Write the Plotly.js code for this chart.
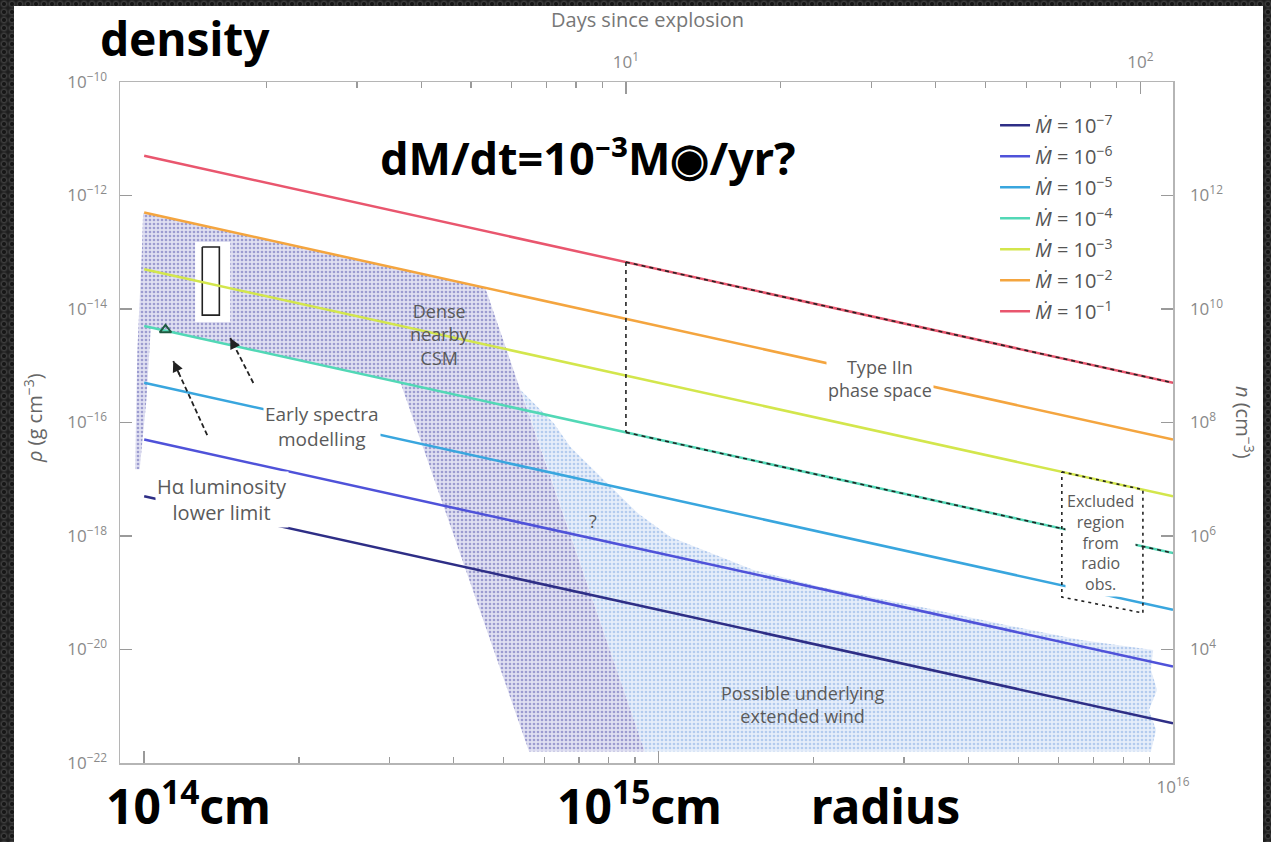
<!DOCTYPE html>
<html><head><meta charset="utf-8">
<script src="https://cdn.plot.ly/plotly-3.0.1.min.js"></script>
<style>
html,body{margin:0;padding:0;width:1271px;height:842px;overflow:hidden;
background-color:#2a2a2a;
background-image:radial-gradient(circle at 50% 50%, #161616 0 1.5px, #3d3d3d 2.5px, #2c2c2c 3.5px, #1d1d1d 4.5px);
background-size:8px 8px;}
#chart{position:absolute;left:14px;top:6px;width:1249px;height:836px;background:#fff;}
</style></head><body><div id="chart"></div><script>
// ---------------- data ----------------
const lineLabels = ['10<sup>−7</sup>','10<sup>−6</sup>','10<sup>−5</sup>','10<sup>−4</sup>','10<sup>−3</sup>','10<sup>−2</sup>','10<sup>−1</sup>'];
const lineRadius = [1e14, 1e16];
const densityAt1e14 = [5.0e-18, 5.0e-17, 5.0e-16, 5.0e-15, 5.0e-14, 5.0e-13, 5.0e-12];
const densityAt1e16 = [5.0e-22, 5.0e-21, 5.0e-20, 5.0e-19, 5.0e-18, 5.0e-17, 5.0e-16];
const lineColors = ['#2e2e86','#4f52d9','#39a6de','#52d8b6','#d3e64c','#f4a53f','#e9566e'];

// shaded regions (radius cm, density g cm^-3)
const denseCsmRadius  = [1.0e14, 4.6e14, 9.4e14, 5.6e14, 3.15e14, 1.03e14, 1.01e14, 9.8e13, 9.6e13, 9.7e13, 9.9e13, 9.95e13, 1.0e14];
const denseCsmDensity = [5.0e-13, 2.4e-14, 1.6e-22, 1.6e-22, 5.0e-16, 4.7e-15, 2.5e-16, 1.5e-17, 1.5e-17, 1.9e-15, 1.1e-13, 4.8e-13, 5.0e-13];
const windRadius  = [5.4e14, 6.25e14, 6.74e14, 7.82e14, 9.1e14, 1.055e15, 1.223e15, 1.53e15, 2.07e15, 2.79e15, 3.38e15, 4.63e15, 6.62e15, 9.15e15, 9.06e15, 9.31e15, 8.98e15, 9.27e15, 9.06e15, 9.4e14, 5.4e14];
const windDensity = [3.7e-16, 9.8e-17, 3.7e-17, 9.7e-18, 2.54e-18, 9.6e-19, 5.66e-19, 2.52e-19, 1.26e-19, 7.45e-20, 5.17e-20, 2.81e-20, 1.47e-20, 9.8e-21, 4.35e-21, 1.93e-21, 8.6e-22, 3.8e-22, 1.6e-22, 1.6e-22, 3.7e-16];

// Type IIn phase space boundary (t > 10 d, between Mdot 1e-4 and 1e-1)
const typeIInRadius = [8.64e14, 1e16];
const typeIInUpper  = [6.7e-14, 5.0e-16];
const typeIInLower  = [6.7e-17, 5.0e-19];

// excluded region from radio observations
const excludedRadius  = [6.08e15, 8.74e15, 8.74e15, 6.08e15, 6.08e15];
const excludedDensity = [1.35e-17, 6.55e-18, 4.4e-20, 8.4e-20, 1.35e-17];

// early spectra modelling constraints
const specBoxRadius  = [1.297e14, 1.40e14, 1.40e14, 1.297e14, 1.297e14];
const specBoxDensity = [1.24e-13, 1.24e-13, 7.8e-15, 7.8e-15, 1.24e-13];
const specClearRadius  = [1.256e14, 1.47e14, 1.47e14, 1.256e14, 1.256e14];
const specClearDensity = [1.52e-13, 1.52e-13, 5.9e-15, 5.9e-15, 1.52e-13];
const triangleRadius = [1.10e14];
const triangleDensity = [4.3e-15];
const arrowTailRadius  = [1.326e14, 1.63e14];
const arrowTailDensity = [6.0e-17, 4.97e-16];
const arrowHeadRadius  = [1.139e14, 1.47e14];
const arrowHeadDensity = [1.21e-15, 3.08e-15];

// axis ticks
const rhoTicks = [1e-22,1e-20,1e-18,1e-16,1e-14,1e-12,1e-10];
const rhoTickText = ['10<sup>−22</sup>','10<sup>−20</sup>','10<sup>−18</sup>','10<sup>−16</sup>','10<sup>−14</sup>','10<sup>−12</sup>','10<sup>−10</sup>'];
const nTicks = [1e4,1e6,1e8,1e10,1e12];
const nTickText = ['10<sup>4</sup>','10<sup>6</sup>','10<sup>8</sup>','10<sup>10</sup>','10<sup>12</sup>'];
const radiusTicks = [1e14,1e15,1e16];
const radiusTickText = ['','','10<sup>16</sup>'];
const radiusMinor = [2e14,3e14,4e14,5e14,6e14,7e14,8e14,9e14,2e15,3e15,4e15,5e15,6e15,7e15,8e15,9e15];
const dayTicks = [10,100];
const dayTickText = ['10<sup>1</sup>','10<sup>2</sup>'];
const dayMinor = [2,3,4,5,6,7,8,9,20,30,40,50,60,70,80,90];
const radiusRangeLog = [13.953, 16];
const dayRangeLog = [0.0165, 2.0635];
const rhoRangeLog = [-22, -10];
const nRangeLog = [2, 14];

// ---------------- traces ----------------
const traces = [];
traces.push({x: windRadius, y: windDensity, mode:'lines', fill:'toself', line:{width:0, color:'rgba(0,0,0,0)'},
  fillcolor:'#e3edf9', fillpattern:{shape:'.', bgcolor:'#e6eefa', fgcolor:'#b3cbee', size:4, solidity:0.35},
  showlegend:false, hoverinfo:'skip'});
traces.push({x: denseCsmRadius, y: denseCsmDensity, mode:'lines', fill:'toself', line:{width:0, color:'rgba(0,0,0,0)'},
  fillcolor:'#dcdcf0', fillpattern:{shape:'.', bgcolor:'#e0e0f2', fgcolor:'#9c9cd0', size:4, solidity:0.35},
  showlegend:false, hoverinfo:'skip'});
traces.push({x: specClearRadius, y: specClearDensity, mode:'lines', fill:'toself', fillcolor:'#ffffff',
  line:{width:0, color:'rgba(0,0,0,0)'}, showlegend:false, hoverinfo:'skip'});
traces.push({x: specBoxRadius, y: specBoxDensity, mode:'lines', line:{color:'#222', width:1.6},
  showlegend:false, hoverinfo:'skip'});

for (let i = 0; i < lineLabels.length; i++) {
  traces.push({x: lineRadius, y: [densityAt1e14[i], densityAt1e16[i]], mode:'lines',
    line:{color: lineColors[i], width:2.5}, name:'<i>Ṁ</i> = ' + lineLabels[i],
    legendgroup:'g'+i, hoverinfo:'skip'});
}

traces.push({x:[typeIInRadius[0], typeIInRadius[1], null, typeIInRadius[0], typeIInRadius[1], null, typeIInRadius[0], typeIInRadius[0]],
  y:[typeIInUpper[0], typeIInUpper[1], null, typeIInLower[0], typeIInLower[1], null, typeIInUpper[0], typeIInLower[0]],
  mode:'lines', line:{color:'#222', width:1.6, dash:'4px,4px'}, showlegend:false, hoverinfo:'skip'});
traces.push({x: excludedRadius, y: excludedDensity, mode:'lines', line:{color:'#222', width:1.6, dash:'3px,4px'},
  showlegend:false, hoverinfo:'skip'});
traces.push({x: triangleRadius, y: triangleDensity, mode:'markers',
  marker:{symbol:'triangle-up-open', size:10, color:'#1f5a40', line:{width:2}}, showlegend:false, hoverinfo:'skip'});
for (let i = 0; i < arrowTailRadius.length; i++) {
  traces.push({x:[arrowTailRadius[i], arrowHeadRadius[i]], y:[arrowTailDensity[i], arrowHeadDensity[i]], mode:'lines',
    line:{color:'#222', width:1.8, dash:'5px,3px'}, showlegend:false, hoverinfo:'skip'});
}
traces.push({x:[dayTicks[0]], y:[nTicks[2]], xaxis:'x2', yaxis:'y2', mode:'markers', marker:{opacity:0},
  showlegend:false, hoverinfo:'skip'});

// ---------------- annotations ----------------
const textFont = {family:'Open Sans, sans-serif', size:18, color:'#5a5a5a'};
const big = {family:'Noto Sans, Open Sans, sans-serif', size:48, color:'#000', weight:'bold'};
const ann = [];
function f(extra) { return Object.assign({}, textFont, extra); }
function label(text, x, y, opts) {
  ann.push(Object.assign({text:text, xref:'paper', yref:'paper', x:x, y:y, showarrow:false,
    xanchor:'center', yanchor:'middle', font:textFont}, opts||{}));
}
label('Dense<br>nearby<br>CSM', 0.3039, 0.6285);
label('Type IIn<br>phase space', 0.7217, 0.5653, {bgcolor:'#fff'});
label('Early spectra<br>modelling', 0.1918, 0.4934, {bgcolor:'#fff', font:f({size:19})});
label('Hα luminosity<br>lower limit', 0.0969, 0.3862, {bgcolor:'#fff', font:f({size:20})});
label('?', 0.4492, 0.3554);
label('Possible underlying<br>extended wind', 0.6486, 0.0852);
label('Excluded<br>region<br>from<br>radio<br>obs.', 0.9307, 0.3245, {bgcolor:'#fff', font:f({size:16})});
label('Days since explosion', 0.5014, 1.0925, {font:f({size:20, color:'#777'})});
label('<i>ρ</i> (g cm<sup>−3</sup>)', -0.0826, 0.5066, {textangle:-90, font:f({size:20, color:'#666'})});
label('<i>n</i> (cm<sup>−3</sup>)', 1.0684, 0.5007, {textangle:90, font:f({size:20, color:'#666'})});
label('density', 0.0617, 1.1116, {font:Object.assign({}, big, {size:46}), yanchor:'top', borderpad:0});
label('dM/dt=10⁻³M◉/yr?', 0.4444, 0.8884, {font:Object.assign({}, big, {size:45})});
label('10<sup>14</sup>cm', 0.0655, -0.0587, {font:big});
label('10<sup>15</sup>cm', 0.4938, -0.0587, {font:big});
label('radius', 0.7265, -0.0617, {font:big});

for (let i = 0; i < arrowHeadRadius.length; i++) {
  const hx = Math.log10(arrowHeadRadius[i]), hy = Math.log10(arrowHeadDensity[i]);
  const tx = Math.log10(arrowTailRadius[i]), ty = Math.log10(arrowTailDensity[i]);
  ann.push({x:hx, y:hy, xref:'x', yref:'y', axref:'x', ayref:'y', ax: hx + 0.2*(tx-hx), ay: hy + 0.2*(ty-hy),
    text:'', showarrow:true, arrowhead:2, arrowsize:1.2, arrowwidth:1.8, arrowcolor:'#222'});
}

const axisCommon = {showline:true, linecolor:'#b5b5b5', linewidth:1.5, ticks:'inside', ticklen:12, tickwidth:1.5,
  tickcolor:'#9a9a9a', showgrid:false, zeroline:false, tickfont:{family:'Open Sans, sans-serif', size:17, color:'#8a8a8a'},
  tickmode:'array'};

const layout = {
  width:1249, height:836,
  margin:{l:106, r:90, t:76, b:79},
  paper_bgcolor:'#ffffff', plot_bgcolor:'#ffffff',
  showlegend:true,
  legend:{x:0.831, y:0.965, xanchor:'left', yanchor:'top', bgcolor:'rgba(0,0,0,0)', traceorder:'grouped',
    tracegroupgap:2, font:{family:'Open Sans, sans-serif', size:20, color:'#555'}},
  xaxis: Object.assign({}, axisCommon, {type:'log', range:radiusRangeLog, tickvals:radiusTicks, ticktext:radiusTickText,
    ticklabelstandoff:8, minor:{ticks:'inside', ticklen:6, tickwidth:1.2, tickcolor:'#9a9a9a', tickvals:radiusMinor}}),
  xaxis2: Object.assign({}, axisCommon, {type:'log', overlaying:'x', side:'top', anchor:'y', range:dayRangeLog,
    tickvals:dayTicks, ticktext:dayTickText, ticklabelstandoff:6,
    minor:{ticks:'inside', ticklen:6, tickwidth:1.2, tickcolor:'#9a9a9a', tickvals:dayMinor}}),
  yaxis: Object.assign({}, axisCommon, {type:'log', range:rhoRangeLog, tickvals:rhoTicks, ticktext:rhoTickText, ticklabelstandoff:8}),
  yaxis2: Object.assign({}, axisCommon, {type:'log', overlaying:'y', side:'right', anchor:'x', range:nRangeLog,
    tickvals:nTicks, ticktext:nTickText, ticklabelstandoff:12}),
  annotations: ann,
  hovermode:false
};

Plotly.newPlot('chart', traces, layout, {staticPlot:true, displayModeBar:false});
</script></body></html>
